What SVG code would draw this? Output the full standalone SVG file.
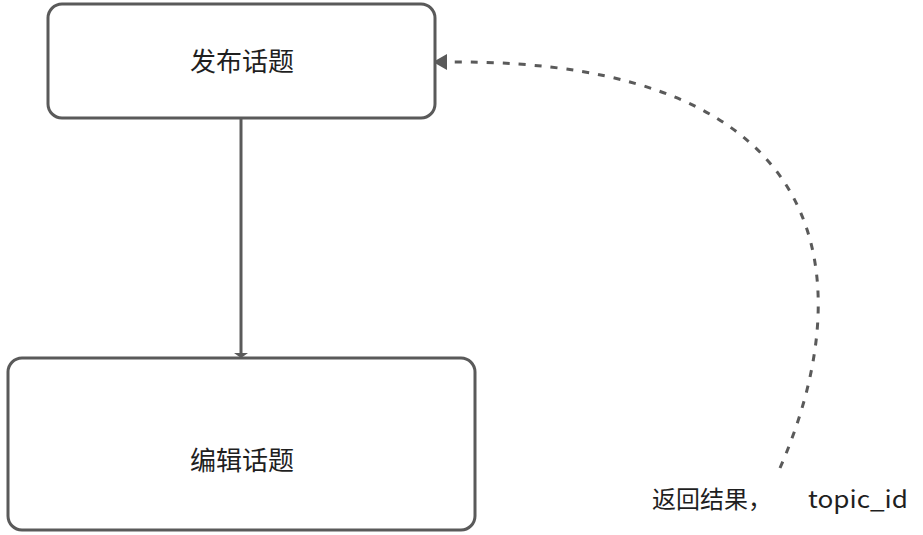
<svg xmlns="http://www.w3.org/2000/svg" width="923" height="535" viewBox="0 0 923 535">
<style>
.box{fill:#fff;stroke:#5a5a5a;stroke-width:3}
.lbl{font-family:"Noto Sans CJK SC","Liberation Sans",sans-serif;fill:#1f1f1f;text-anchor:middle}
.edge{fill:none;stroke:#5a5a5a;stroke-width:3}
</style>
<rect width="923" height="535" fill="#fff"/>
<g id="connectors">
<path class="edge" d="M241,118 V354"/>
<path d="M234,353 L248,353 L241,358 Z" fill="#5a5a5a"/>
<path class="edge" d="M780,468 C858,290 848,58 446,62" stroke-dasharray="7 9"/>
<path d="M433,62 L447,54 L447,70 Z" fill="#5a5a5a"/>
</g>
<g id="node-publish">
<rect class="box" x="48" y="4" width="387" height="114" rx="14"/>
<text class="lbl" x="242" y="71" font-size="26">发布话题</text>
</g>
<g id="node-edit">
<rect class="box" x="8" y="358" width="467" height="172" rx="14"/>
<text class="lbl" x="242" y="470" font-size="26">编辑话题</text>
</g>
<g id="label-result">
<text font-family="Noto Sans CJK SC,Liberation Sans,sans-serif" font-size="24" fill="#1f1f1f" y="508"><tspan x="652">返回结果，</tspan><tspan x="808" textLength="100" lengthAdjust="spacingAndGlyphs">topic_id</tspan></text>
</g>
</svg>
